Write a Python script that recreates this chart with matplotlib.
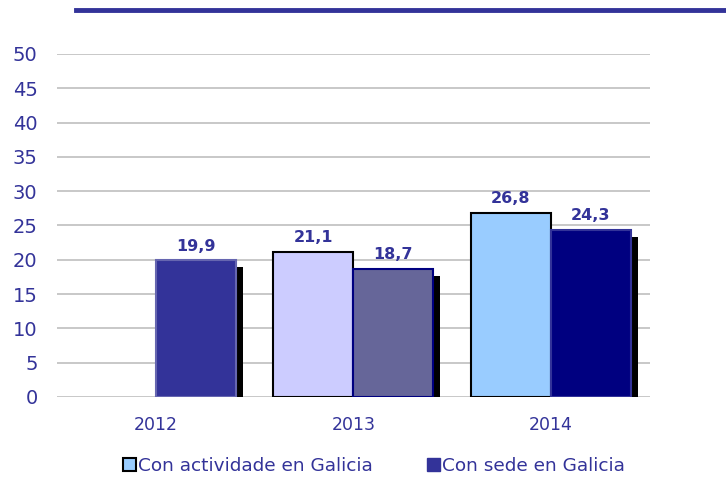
import numpy as np
import matplotlib
matplotlib.use("Agg")
import matplotlib.pyplot as plt
import matplotlib.patheffects as pe
from matplotlib.patches import Patch

years = ["2012", "2013", "2014"]
actividade = [np.nan, 21.1, 26.8]
sede = [19.9, 18.7, 24.3]
actividade_colors = ["#99CCFF", "#CCCCFF", "#99CCFF"]
actividade_edges = ["black", "black", "black"]
sede_colors = ["#333399", "#666699", "#000080"]
sede_edges = ["#6666B0", "#000080", "#333399"]
label_color = "#333399"

plt.rcParams['font.family'] = ['DejaVu Sans']

fig = plt.figure(figsize=(7.26, 4.95), dpi=100)
ax = fig.add_axes([0.0785, 0.198, 0.8165, 0.693])

x = np.arange(len(years))
w = 0.405
shadow = [pe.SimplePatchShadow(offset=(5, -5), shadow_rgbFace='black', alpha=1.0), pe.Normal()]

b1 = ax.bar(x - w / 2, actividade, w, color=actividade_colors, edgecolor=actividade_edges,
            linewidth=1.5, zorder=3)
b2 = ax.bar(x + w / 2, sede, w, color=sede_colors, edgecolor=sede_edges,
            linewidth=1.5, zorder=3)
for b in b2:
    b.set_path_effects(shadow)

for bars, vals in ((b1, actividade), (b2, sede)):
    for b, v in zip(bars, vals):
        if np.isnan(v):
            continue
        ax.annotate(f"{v:.1f}".replace(".", ","), (b.get_x() + b.get_width() / 2, v),
                    xytext=(0, 5), textcoords="offset points", ha="center", va="bottom",
                    fontsize=11.5, fontweight="bold", color=label_color, zorder=5)

ax.set_xlim(-0.5, 2.5)
ax.set_ylim(0, 50)
ax.set_yticks(range(0, 51, 5))
ax.set_xticks(x)
ax.set_xticklabels(years)
ax.yaxis.grid(True, color="#C4C4C4", linewidth=1.3, zorder=0)
ax.set_axisbelow(True)
for s in ax.spines.values():
    s.set_visible(False)
ax.tick_params(axis="y", length=0, pad=14, labelsize=14, labelcolor=label_color)
ax.tick_params(axis="x", length=0, pad=14, labelsize=12.5, labelcolor=label_color)

handles = [Patch(facecolor="#99CCFF", edgecolor="black", linewidth=1.5),
           Patch(facecolor="#333399", edgecolor="#333399")]
fig.legend(handles, ["Con actividade en Galicia", "Con sede en Galicia"],
           loc="center", bbox_to_anchor=(0.515, 0.058), ncol=2, frameon=False,
           fontsize=13.3, labelcolor=label_color, handlelength=0.7, handleheight=0.7,
           handletextpad=0.1, columnspacing=2.95)

fig.add_artist(plt.Line2D([76 / 726, 1.0], [0.98, 0.98], color="#333399", linewidth=3.5,
                          transform=fig.transFigure))

fig.savefig("out.png", dpi=100)
